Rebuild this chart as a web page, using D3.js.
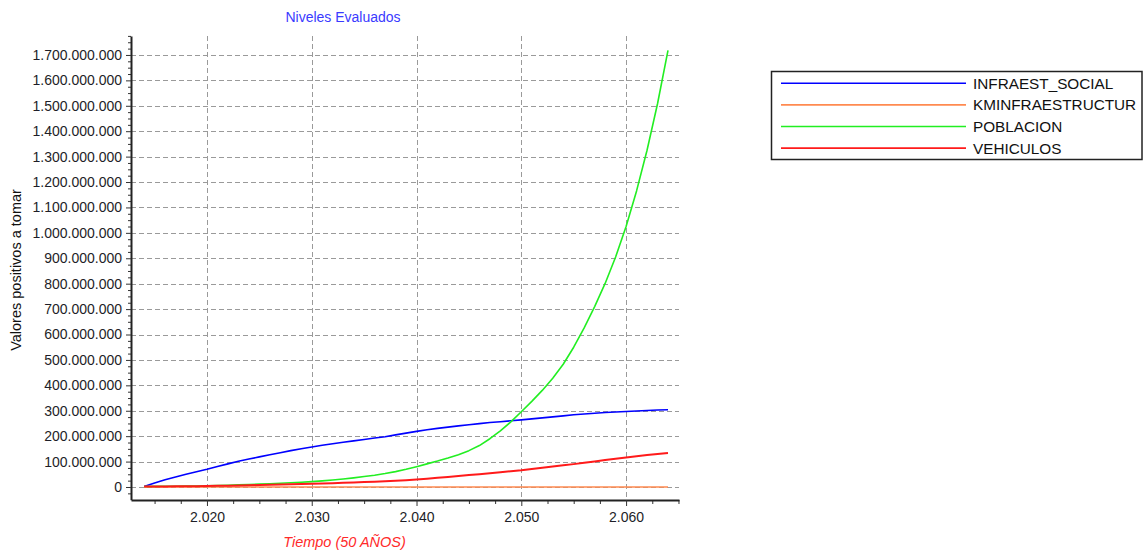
<!DOCTYPE html>
<html>
<head>
<meta charset="utf-8">
<script src="https://cdn.jsdelivr.net/npm/d3@7"></script>
<style>
  html, body { margin: 0; padding: 0; background: #fff; }
  svg { display: block; font-family: "Liberation Sans", Arial, sans-serif; }
</style>
</head>
<body>
<svg id="chart" width="1147" height="553"></svg>
<script>
// ---------------- DATA ----------------
const title = "Niveles Evaluados";
const xTitle = "Tiempo (50 AÑOS)";
const yTitle = "Valores positivos a tomar";

const years = [2014,2015,2016,2017,2018,2019,2020,2021,2022,2023,2024,2025,2026,2027,2028,2029,2030,
  2031,2032,2033,2034,2035,2036,2037,2038,2039,2040,2041,2042,2043,2044,2045,2046,2047,2048,2049,2050,
  2051,2052,2053,2054,2055,2056,2057,2058,2059,2060,2061,2062,2063,2064];

// values in millions
const infraestSocial = [2,16,28.5,39.5,50,60,69.5,80.5,91,101,110,118.5,127,135,143,150.5,157.5,
  164,170,176,181.5,187,192.5,198,205,212,219,225,230.5,235.5,240.5,245,249.5,253.5,257,260.5,264,
  268,272,276,280,284,287,290,293,295,297,299,301,303,304];
const kmInfraestructur = [0.010,0.011,0.012,0.013,0.014,0.015,0.016,0.017,0.018,0.019,0.020,0.021,0.022,0.023,0.024,0.025,0.026,
  0.027,0.028,0.029,0.030,0.031,0.032,0.033,0.034,0.035,0.036,0.037,0.038,0.039,0.040,0.041,0.042,0.043,0.044,0.045,0.046,
  0.047,0.048,0.049,0.050,0.051,0.052,0.053,0.054,0.055,0.056,0.057,0.058,0.059,0.060];
const poblacion = [2,2.3,2.7,3.1,3.6,4.2,4.9,5.7,7,8.2,9.6,11.2,12.9,14.8,16.7,18.8,21,
  24,27.5,31.5,36,41,46.5,53,60.5,69.5,80,91,102,114,127,143,163,190,221,256,296,
  337,380,428,483,550,626,710,801,905,1025,1165,1325,1508,1718];
const vehiculos = [1.5,1.8,2.1,2.5,2.9,3.4,4,4.6,5.3,6,6.8,7.7,8.6,9.6,10.7,11.5,12.8,
  14,15.2,16.5,18,19.5,21,22.7,24.5,27,29.5,32.5,36,39.5,43,47,50.5,54,58,62,66,
  71,76,81,85.5,90,95,100.5,106,111,116,121,125.5,130,134];

const seriesNames = ["INFRAEST_SOCIAL","KMINFRAESTRUCTUR","POBLACION","VEHICULOS"];
const seriesValues = [infraestSocial, kmInfraestructur, poblacion, vehiculos];
const seriesColors = ["#0000ff","#ff8a50","#22ee22","#ff1a1a"];
const seriesWidths = [1.6,1.6,1.6,2];

const UNIT = 1e6;
const yMajorTicks = [0,100,200,300,400,500,600,700,800,900,1000,1100,1200,1300,1400,1500,1600,1700].map(v => v*UNIT);
const xMajorTicks = [2020,2030,2040,2050,2060];

// ---------------- LAYOUT ----------------
const svg = d3.select("#chart");
const plot = {left:131, right:679, top:36, bottom:500};

const x = d3.scaleLinear().domain([2012.75, 2065.05]).range([plot.left, plot.right]);
const y = d3.scaleLinear().domain([-50e6, 1775e6]).range([499.7, 35.9]);

const loc = d3.formatLocale({decimal:",", thousands:".", grouping:[3], currency:["",""]});
const fmt = loc.format(",d");

// gridlines
const grid = svg.append("g").attr("stroke","#9a9a9a").attr("stroke-width",1).attr("stroke-dasharray","5,3");
grid.selectAll("line.h").data(yMajorTicks).join("line")
  .attr("x1", plot.left).attr("x2", plot.right)
  .attr("y1", d => Math.round(y(d))+0.5).attr("y2", d => Math.round(y(d))+0.5);
grid.selectAll("line.v").data(xMajorTicks).join("line")
  .attr("y1", plot.top).attr("y2", plot.bottom)
  .attr("x1", d => Math.round(x(d))+0.5).attr("x2", d => Math.round(x(d))+0.5);

// lines
const line = d3.line().x((d,i) => x(years[i])).y(d => y(d*UNIT));
seriesValues.forEach((vals, k) => {
  svg.append("path").datum(vals)
    .attr("fill","none").attr("stroke", seriesColors[k])
    .attr("stroke-width", seriesWidths[k]).attr("stroke-linejoin","round")
    .attr("d", line);
});

// minor ticks
const yMinor = d3.range(-25e6, 1776e6, 25e6).filter(v => Math.abs(v % 100e6) > 1);
svg.append("g").attr("transform",`translate(${plot.left},0)`)
  .call(d3.axisLeft(y).tickValues(yMinor).tickSize(3).tickFormat(""))
  .call(g => g.select(".domain").remove())
  .selectAll("line").attr("stroke","#333");
const xMinor = d3.range(2015, 2065.1, 2.5).filter(v => v % 10 !== 0);
svg.append("g").attr("transform",`translate(0,${plot.bottom})`)
  .call(d3.axisBottom(x).tickValues(xMinor).tickSize(4).tickFormat(""))
  .call(g => g.select(".domain").remove())
  .selectAll("line").attr("stroke","#333");

// y axis
const yAxis = svg.append("g").attr("transform",`translate(${plot.left},0)`)
  .call(d3.axisLeft(y).tickValues(yMajorTicks).tickSize(5).tickPadding(4).tickFormat(fmt).tickSizeOuter(0));
yAxis.select(".domain").attr("stroke","#222").attr("stroke-width",2);
yAxis.selectAll(".tick line").attr("stroke","#333");
yAxis.selectAll("text").attr("font-size",14).attr("fill","#1e1e28")
  .attr("font-family","'Liberation Sans', Arial, sans-serif");

// x axis
const xAxis = svg.append("g").attr("transform",`translate(0,${plot.bottom})`)
  .call(d3.axisBottom(x).tickValues(xMajorTicks).tickSize(6).tickPadding(6.5).tickFormat(fmt).tickSizeOuter(0));
xAxis.select(".domain").attr("stroke","#222").attr("stroke-width",2);
xAxis.selectAll(".tick line").attr("stroke","#333");
xAxis.selectAll("text").attr("font-size",14).attr("fill","#1e1e28")
  .attr("font-family","'Liberation Sans', Arial, sans-serif");

// titles
svg.append("text").attr("x",343).attr("y",22).attr("text-anchor","middle")
  .attr("font-size",14).attr("fill","#3a3aff").text(title);
svg.append("text").attr("x",344.5).attr("y",547).attr("text-anchor","middle")
  .attr("font-size",14.5).attr("font-style","italic").attr("fill","#ff2a2a").text(xTitle);
svg.append("text").attr("transform","translate(21,270) rotate(-90)").attr("text-anchor","middle")
  .attr("font-size",14.5).attr("fill","#111").text(yTitle);

// legend
const lg = svg.append("g");
lg.append("rect").attr("x",771.5).attr("y",71.5).attr("width",370.5).attr("height",88)
  .attr("fill","#fff").attr("stroke","#222").attr("stroke-width",1.5);
const rowY = [83.3, 104.9, 126.5, 148.1];
seriesNames.forEach((name, k) => {
  lg.append("line").attr("x1",781).attr("x2",966).attr("y1",rowY[k]).attr("y2",rowY[k])
    .attr("stroke",seriesColors[k]).attr("stroke-width",1.6);
  lg.append("text").attr("x",973).attr("y",rowY[k]+5.5)
    .attr("font-size",15.3).attr("fill","#111").text(name);
});
</script>
</body>
</html>
